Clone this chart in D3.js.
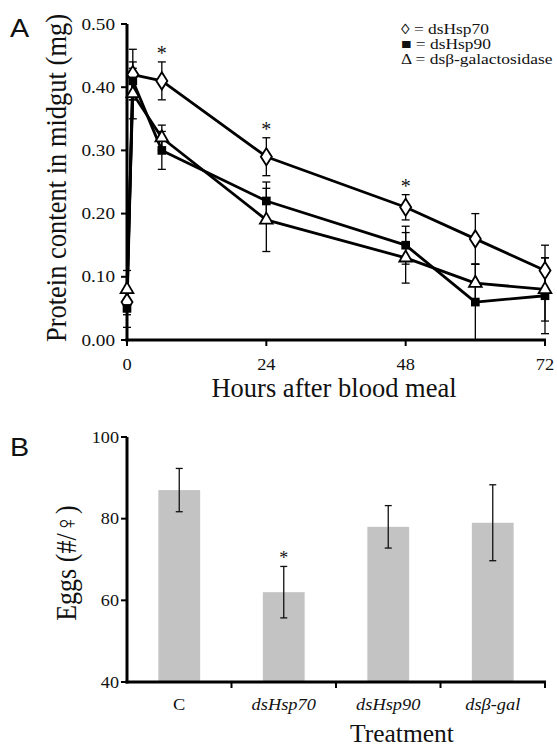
<!DOCTYPE html>
<html>
<head>
<meta charset="utf-8">
<script src="https://cdn.jsdelivr.net/npm/d3@7"></script>
<style>
  body { margin: 0; background: #fff; }
  svg { display: block; }
  text { font-family: "Liberation Serif", "Times New Roman", serif; fill: #111; }
</style>
</head>
<body>
<svg width="557" height="748"></svg>
<script>
// panel A data: protein in midgut (mg) vs hours after blood meal
const hours = [0, 1, 6, 24, 48, 60, 72];
const hsp70 = [0.06, 0.42, 0.41, 0.29, 0.21, 0.16, 0.11];
const hsp70Err = [0.02, 0.04, 0.03, 0.03, 0.02, 0.04, 0.04];
const hsp90 = [0.05, 0.41, 0.30, 0.22, 0.15, 0.06, 0.07];
const hsp90Err = [0.03, 0.03, 0.03, 0.03, 0.03, 0.06, 0.06];
const bgal = [0.08, 0.39, 0.32, 0.19, 0.13, 0.09, 0.08];
const bgalErr = [0.03, 0.04, 0.02, 0.05, 0.04, 0.03, 0.05];
const starHours = [6, 24, 48];
const hourTicks = [0, 24, 48, 72];
const proteinTicks = [0, 0.1, 0.2, 0.3, 0.4, 0.5];
const legendLabels = ["\u25CA = dsHsp70", "\u25A0 = dsHsp90", "\u0394 = ds\u03B2-galactosidase"];

// panel B data: eggs per female
const treatments = ["C", "dsHsp70", "dsHsp90", "ds\u03B2-gal"];
const eggs = [87, 62, 78, 79];
const eggsErr = [5.3, 6.3, 5.2, 9.3];
const eggTicks = [40, 60, 80, 100];
const starTreatments = ["dsHsp70"];

const svg = d3.select("svg");

// text helper, sx stretches the glyphs horizontally like in the scanned figure
function label(g, x, y, str, size, opt = {}) {
    const sx = opt.sx || 1;
    let t = g.append("text")
        .attr("transform", `translate(${x},${y}) scale(${sx},1)` + (opt.rotate ? " rotate(-90)" : ""))
        .attr("text-anchor", opt.anchor || "middle")
        .style("font-size", size + "px")
        .text(str);
    if (opt.italic) t.style("font-style", "italic");
    if (opt.sans) t.style("font-family", "'Liberation Sans', Arial, sans-serif");
    return t;
}

function drawPanelA() {
    const g = svg.append("g");
    const scX = d3.scaleLinear().domain([0, 72]).range([127, 545]);
    const scY = d3.scaleLinear().domain([0, 0.5]).range([340, 24]);

    // axes
    g.append("line").attr("x1", scX(0)).attr("x2", scX(0)).attr("y1", scY(0) + 1.5).attr("y2", scY(0.5))
        .style("stroke", "#000").style("stroke-width", 3);
    g.append("line").attr("x1", scX(0) - 1.5).attr("x2", scX(72) + 1).attr("y1", scY(0)).attr("y2", scY(0))
        .style("stroke", "#000").style("stroke-width", 3);

    g.selectAll(".ytick").data(proteinTicks).enter().append("line")
        .attr("x1", scX(0) - 6).attr("x2", scX(0))
        .attr("y1", d => scY(d)).attr("y2", d => scY(d))
        .style("stroke", "#000").style("stroke-width", 2);
    proteinTicks.forEach(d => label(g, scX(0) - 12, scY(d) + 5.5, d.toFixed(2), 16, {anchor: "end", sx: 1.2}));

    g.selectAll(".xtick").data(hourTicks).enter().append("line")
        .attr("x1", d => scX(d)).attr("x2", d => scX(d))
        .attr("y1", scY(0)).attr("y2", scY(0) + 6)
        .style("stroke", "#000").style("stroke-width", 2);
    hourTicks.forEach(d => label(g, scX(d), 370, d, 16, {sx: 1.15}));

    label(g, 334, 397, "Hours after blood meal", 26.5);
    label(g, 66, 178, "Protein content in midgut (mg)", 26.5, {rotate: true, sx: 1.15});
    label(g, 10, 37, "A", 25, {anchor: "start", sans: true, sx: 1.15});

    const series = [
        {vals: hsp70, err: hsp70Err, shape: "diamond"},
        {vals: hsp90, err: hsp90Err, shape: "square"},
        {vals: bgal, err: bgalErr, shape: "triangle"}
    ];

    // error bars
    series.forEach(s => {
        hours.forEach((h, i) => {
            const x = scX(h), y1 = scY(s.vals[i] + s.err[i]), y2 = scY(Math.max(0, s.vals[i] - s.err[i]));
            g.append("line").attr("x1", x).attr("x2", x).attr("y1", y1).attr("y2", y2)
                .style("stroke", "#000").style("stroke-width", 1.3);
            [y1, y2].forEach(y => g.append("line").attr("x1", x - 4).attr("x2", x + 4).attr("y1", y).attr("y2", y)
                .style("stroke", "#000").style("stroke-width", 1.3));
        });
    });

    // lines
    const line = d3.line().x((d, i) => scX(hours[i])).y(d => scY(d));
    series.forEach(s => {
        g.append("path").attr("d", line(s.vals))
            .style("fill", "none").style("stroke", "#000").style("stroke-width", 2.8)
            .style("stroke-linejoin", "round");
    });

    // markers
    const symbols = {
        diamond: d3.symbol().type(d3.symbolDiamond).size(95),
        square: d3.symbol().type(d3.symbolSquare).size(75),
        triangle: d3.symbol().type(d3.symbolTriangle).size(70)
    };
    series.forEach(s => {
        g.selectAll(null).data(s.vals).enter().append("path")
            .attr("d", symbols[s.shape])
            .attr("transform", (d, i) => `translate(${scX(hours[i])},${scY(d)})` + (s.shape == "diamond" ? " scale(1.05,0.95)" : ""))
            .style("fill", s.shape == "square" ? "#000" : "#fff")
            .style("stroke", "#000").style("stroke-width", s.shape == "square" ? 0 : 1.8);
    });

    // significance stars
    starHours.forEach(h => {
        const i = hours.indexOf(h);
        label(g, scX(h), scY(hsp70[i] + hsp70Err[i]) - 2, "*", 20);
    });

    // legend
    legendLabels.forEach((t, i) => label(g, 401, 34 + i * 15, t, 14.5, {anchor: "start", sx: 1.2}));
}

function drawPanelB() {
    const g = svg.append("g");
    const scX = d3.scaleBand().domain(treatments).range([127, 545]).paddingInner(0.6).paddingOuter(0.3);
    const scY = d3.scaleLinear().domain([40, 100]).range([682, 437]);

    // bars
    g.selectAll(".bar").data(treatments).enter().append("rect")
        .attr("x", d => scX(d))
        .attr("y", (d, i) => scY(eggs[i]))
        .attr("width", scX.bandwidth())
        .attr("height", (d, i) => scY(40) - scY(eggs[i]))
        .style("fill", "#c3c3c3");

    // error bars
    treatments.forEach((d, i) => {
        const x = scX(d) + scX.bandwidth() / 2;
        const y1 = scY(eggs[i] + eggsErr[i]), y2 = scY(eggs[i] - eggsErr[i]);
        g.append("line").attr("x1", x).attr("x2", x).attr("y1", y1).attr("y2", y2)
            .style("stroke", "#111").style("stroke-width", 1.3);
        [y1, y2].forEach(y => g.append("line").attr("x1", x - 3.5).attr("x2", x + 3.5).attr("y1", y).attr("y2", y)
            .style("stroke", "#111").style("stroke-width", 1.3));
    });

    starTreatments.forEach(t => {
        const i = treatments.indexOf(t);
        label(g, scX(t) + scX.bandwidth() / 2, scY(eggs[i] + eggsErr[i]) - 2, "*", 18);
    });

    // axes
    const x0 = scX.range()[0], x1 = scX.range()[1];
    g.append("line").attr("x1", x0).attr("x2", x0).attr("y1", scY(40) + 1.5).attr("y2", scY(100))
        .style("stroke", "#000").style("stroke-width", 3);
    g.append("line").attr("x1", x0 - 1.5).attr("x2", x1 + 1).attr("y1", scY(40)).attr("y2", scY(40))
        .style("stroke", "#000").style("stroke-width", 3);

    g.selectAll(".ytick").data(eggTicks).enter().append("line")
        .attr("x1", x0 - 6).attr("x2", x0)
        .attr("y1", d => scY(d)).attr("y2", d => scY(d))
        .style("stroke", "#000").style("stroke-width", 2);
    eggTicks.forEach(d => label(g, x0 - 8, scY(d) + 5.5, d, 16.5, {anchor: "end", sx: 1.1}));

    const step = scX.step();
    g.selectAll(".xtick").data(treatments).enter().append("line")
        .attr("x1", (d, i) => x0 + step * (i + 1)).attr("x2", (d, i) => x0 + step * (i + 1))
        .attr("y1", scY(40)).attr("y2", scY(40) + 6)
        .style("stroke", "#000").style("stroke-width", 2);
    treatments.forEach((d, i) => label(g, scX(d) + scX.bandwidth() / 2, 710, d, 17.5, {italic: i > 0, sx: 1.05}));

    label(g, 402, 742, "Treatment", 25.5);
    label(g, 76, 563, "Eggs (#/\u2640)", 26, {rotate: true, sx: 1.1});
    label(g, 10, 456, "B", 25, {anchor: "start", sans: true, sx: 1.15});
}

drawPanelA();
drawPanelB();
</script>
</body>
</html>
